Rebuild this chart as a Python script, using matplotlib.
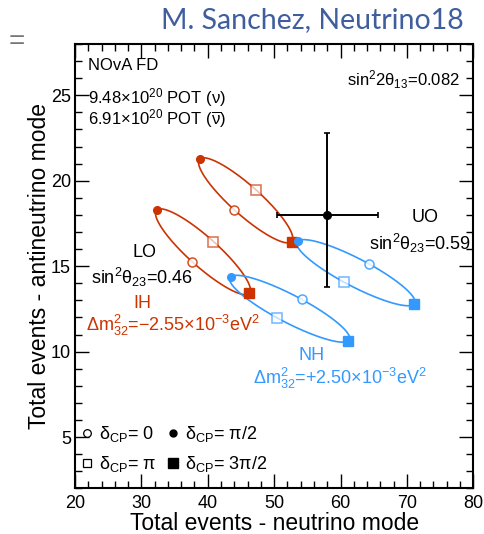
import numpy as np
import matplotlib
matplotlib.use("Agg")
import matplotlib.pyplot as plt

plt.rcParams['font.family'] = ['Liberation Sans', 'DejaVu Sans']
plt.rcParams['mathtext.fontset'] = 'custom'
plt.rcParams['mathtext.rm'] = 'Liberation Sans'
plt.rcParams['mathtext.it'] = 'Liberation Sans'
plt.rcParams['mathtext.bf'] = 'Liberation Sans:bold'
plt.rcParams['mathtext.default'] = 'regular'

# Predicted event counts at delta_CP = 0, pi/2, pi, 3pi/2
delta_points = [0.0, 0.5 * np.pi, np.pi, 1.5 * np.pi]

ih_lo_nu = [37.68, 32.32, 40.85, 46.28]
ih_lo_nubar = [15.23, 18.29, 16.43, 13.41]
ih_uo_nu = [44.02, 38.85, 47.29, 52.67]
ih_uo_nubar = [18.27, 21.27, 19.44, 16.43]
nh_lo_nu = [54.18, 43.47, 50.50, 61.20]
nh_lo_nubar = [13.06, 14.38, 11.97, 10.62]
nh_uo_nu = [64.22, 53.57, 60.45, 71.00]
nh_uo_nubar = [15.14, 16.49, 14.07, 12.77]

# Observed counts with asymmetric errors
data_nu = 58.0
data_nubar = 18.0
data_nu_err = [7.5, 7.6]
data_nubar_err = [4.2, 4.8]

x_ticks = [20, 30, 40, 50, 60, 70, 80]
y_ticks = [5, 10, 15, 20, 25]

RED = '#CC3300'
BLUE = '#3399FF'

W, H = 485, 534
fig = plt.figure(figsize=(W / 100, H / 100), dpi=100)
ax = fig.add_axes([75 / W, 1 - 488.3 / H, (473.3 - 75) / W, (488.3 - 44) / H])


def curve(vals, d):
    # event count as a + b cos(d) + c sin(d), fixed by the four delta_CP values
    v0, v1, v2, v3 = vals
    a = 0.25 * (v0 + v1 + v2 + v3)
    b = 0.5 * (v0 - v2)
    c = 0.5 * (v1 - v3)
    return a + b * np.cos(d) + c * np.sin(d)


d = np.linspace(0, 2 * np.pi, 400)
sets = [
    (ih_lo_nu, ih_lo_nubar, RED),
    (ih_uo_nu, ih_uo_nubar, RED),
    (nh_lo_nu, nh_lo_nubar, BLUE),
    (nh_uo_nu, nh_uo_nubar, BLUE),
]
for xs, ys, col in sets:
    ax.plot(curve(xs, d), curve(ys, d), color=col, lw=1.2, zorder=2)
    # delta = 0 : open circle
    ax.plot(xs[0], ys[0], 'o', ms=6.5, mfc='white', mec=col, mew=1.1, alpha=0.85, zorder=3)
    # delta = pi/2 : filled circle
    ax.plot(xs[1], ys[1], 'o', ms=5.5, mfc=col, mec=col, zorder=3)
    # delta = pi : open square
    ax.plot(xs[2], ys[2], 's', ms=6.5, mfc='white', mec=col, mew=1.1, alpha=0.7, zorder=3)
    # delta = 3pi/2 : filled square
    ax.plot(xs[3], ys[3], 's', ms=7, mfc=col, mec=col, zorder=3)

ax.errorbar(data_nu, data_nubar,
            xerr=[[data_nu_err[0]], [data_nu_err[1]]],
            yerr=[[data_nubar_err[0]], [data_nubar_err[1]]],
            fmt='o', color='black', ms=5.5, lw=1.4, capsize=2, capthick=1.2, zorder=4)

ax.set_xlim(20, 80)
ax.set_ylim(2, 28)
ax.set_xticks(x_ticks)
ax.set_yticks(y_ticks)
ax.set_xticks(np.arange(20, 81, 2), minor=True)
ax.set_yticks(np.arange(2, 29, 1), minor=True)
ax.tick_params(which='both', direction='in', top=True, right=True, width=1.0)
ax.tick_params(which='major', length=10, labelsize=13)
ax.tick_params(axis='x', which='major', pad=5)
ax.tick_params(axis='y', which='major', pad=3)
ax.tick_params(which='minor', length=5)
for s in ax.spines.values():
    s.set_linewidth(1.5)

ax.set_xlabel('Total events - neutrino mode', fontsize=16.5, labelpad=0)
ax.set_ylabel('Total events - antineutrino mode', fontsize=16.5, labelpad=0)


def ftxt(x, y, s, **kw):
    fig.text(x / W, 1 - y / H, s, **kw)


fs = 12
ftxt(88, 66, 'NOvA FD', fontsize=fs, ha='left', va='center')
ftxt(88, 98, '9.48×10$^{20}$ POT (ν)', fontsize=fs, ha='left', va='center')
ftxt(88, 119, '6.91×10$^{20}$ POT ($\\overline{\\mathrm{ν}}$)', fontsize=fs, ha='left', va='center')
ftxt(460, 80, 'sin$^{2}$2θ$_{13}$=0.082', fontsize=fs, ha='right', va='center')

ftxt(145, 253, 'LO', fontsize=13, ha='center', va='center')
ftxt(142, 277, 'sin$^{2}$θ$_{23}$=0.46', fontsize=13, ha='center', va='center')
ftxt(142, 304, 'IH', fontsize=13, ha='center', va='center', color=RED)
ftxt(173, 325, 'Δm$^{2}_{32}$=−2.55×10$^{-3}$eV$^{2}$', fontsize=13, ha='center', va='center', color=RED)

ftxt(425, 217, 'UO', fontsize=13, ha='center', va='center')
ftxt(420, 243, 'sin$^{2}$θ$_{23}$=0.59', fontsize=13, ha='center', va='center')

ftxt(312, 356, 'NH', fontsize=13, ha='center', va='center', color=BLUE)
ftxt(340, 378, 'Δm$^{2}_{32}$=+2.50×10$^{-3}$eV$^{2}$', fontsize=13, ha='center', va='center', color=BLUE)

# marker key
fig.lines.append(plt.Line2D([87.3 / W], [1 - 433.3 / H], marker='o', ms=5.5, mfc='white',
                            mec='black', mew=0.9, ls='none', transform=fig.transFigure))
fig.lines.append(plt.Line2D([173.3 / W], [1 - 433.3 / H], marker='o', ms=5, mfc='black',
                            mec='black', ls='none', transform=fig.transFigure))
fig.lines.append(plt.Line2D([87.3 / W], [1 - 463.3 / H], marker='s', ms=6, mfc='white',
                            mec='black', mew=0.9, ls='none', transform=fig.transFigure))
fig.lines.append(plt.Line2D([173.3 / W], [1 - 463.3 / H], marker='s', ms=6.5, mfc='black',
                            mec='black', ls='none', transform=fig.transFigure))
ftxt(99, 434, 'δ$_{CP}$= 0', fontsize=13, ha='left', va='center')
ftxt(185, 434, 'δ$_{CP}$= π/2', fontsize=13, ha='left', va='center')
ftxt(99, 464, 'δ$_{CP}$= π', fontsize=13, ha='left', va='center')
ftxt(185, 464, 'δ$_{CP}$= 3π/2', fontsize=13, ha='left', va='center')

# header
ftxt(464, 20, 'M. Sanchez, Neutrino18', fontsize=20.5, ha='right', va='center',
     color='#3F5E9E', family=['Lato', 'DejaVu Sans'])
ftxt(17, 42, '=', fontsize=20, ha='center', va='center', color='#777777')

fig.savefig('out.png', dpi=100)
